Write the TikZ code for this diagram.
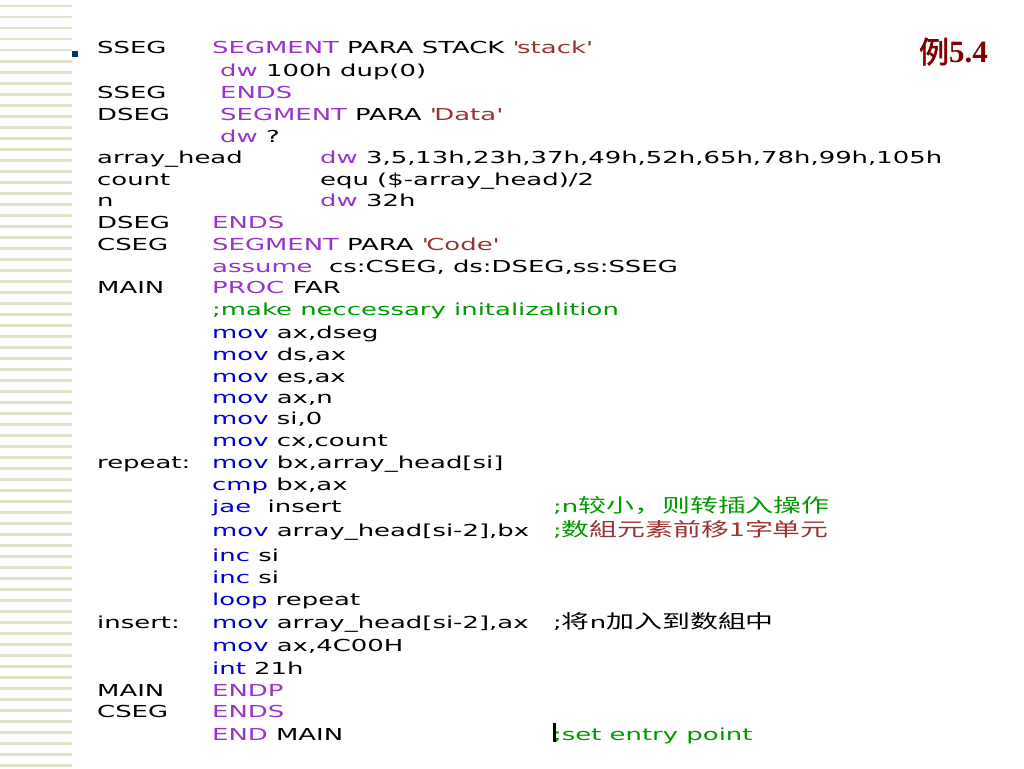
\documentclass[tikz,border=0pt]{standalone}
\usepackage{fontspec}
\setmainfont[FakeStretch=1.57]{DejaVu Sans}
\newfontfamily\cjk[FakeStretch=1.47]{Noto Sans CJK SC}
\newfontfamily\cjkbold[FakeBold=2]{Noto Sans CJK SC}
\newfontfamily\titleserif{Liberation Serif}
\definecolor{dirpurple}{RGB}{153,51,204}
\definecolor{opblue}{RGB}{0,0,204}
\definecolor{strbrown}{RGB}{153,51,51}
\definecolor{cmtgreen}{RGB}{0,153,0}
\definecolor{titlered}{RGB}{128,0,0}
\definecolor{stripegreen}{RGB}{226,226,202}
\definecolor{bulletblue}{RGB}{0,51,102}
\newcommand{\kwd}[1]{\textcolor{dirpurple}{#1}}
\newcommand{\opc}[1]{\textcolor{opblue}{#1}}
\newcommand{\strq}[1]{\textcolor{strbrown}{\textquotesingle#1\textquotesingle}}
\newcommand{\cmnt}[1]{\textcolor{cmtgreen}{#1}}
\newcommand{\zhtext}[1]{{\fontsize{19}{20}\cjk #1}}
\begin{document}
\begin{tikzpicture}[x=1pt,y=-1pt]
        \tikzstyle{code}=[anchor=base west,inner sep=0pt,font=\fontsize{16.5}{20}\selectfont]
        \tikzstyle{stripe}=[fill=stripegreen]
        \useasboundingbox (0,0) rectangle (1024,768);
        \fill[white] (0,0) rectangle (1024,768);
        \foreach \i in {0,...,69}
          \fill[stripe] (0,{5+11*\i}) rectangle (72,{7.5+11*\i});
        \node [fill=bulletblue,inner sep=0pt,minimum size=6pt] (bullet) at (74.5,54.5) {};
        \node [anchor=base east,inner sep=0pt,text=titlered] (title) at (988,63)
          {{\fontsize{30}{32}\cjkbold 例}{\fontsize{31}{32}\titleserif\bfseries 5.4}};
       \begin{scope}
         \node [code] (sseg1) at (97,54) {SSEG};
         \node [code] (stackseg) at (212,54) {\kwd{SEGMENT} PARA STACK \strq{stack}};
         \node [code] (stackdw) at (220,76) {\kwd{dw} 100h dup(0)};
         \node [code] (sseg2) at (97,98) {SSEG};
         \node [code] (stackends) at (220,98) {\kwd{ENDS}};
         \node [code] (dseg1) at (97,120) {DSEG};
         \node [code] (dataseg) at (220,120) {\kwd{SEGMENT} PARA \strq{Data}};
         \node [code] (datadw) at (220,142) {\kwd{dw} ?};
         \node [code] (arrhead) at (97,163) {array\_head};
         \node [code] (arrdw) at (320,163) {\kwd{dw} 3,5,13h,23h,37h,49h,52h,65h,78h,99h,105h};
         \node [code] (count) at (97,185) {count};
         \node [code] (countequ) at (320,185) {equ (\$-array\_head)/2};
         \node [code] (n) at (97,206) {n};
         \node [code] (ndw) at (320,206) {\kwd{dw} 32h};
         \node [code] (dseg2) at (97,228) {DSEG};
         \node [code] (dataends) at (212,228) {\kwd{ENDS}};
        \end{scope}
       \begin{scope}
         \node [code] (cseg1) at (97,250) {CSEG};
         \node [code] (codeseg) at (212,250) {\kwd{SEGMENT} PARA \strq{Code}};
         \node [code] (assume) at (212,272) {\kwd{assume}\ \ cs:CSEG, ds:DSEG,ss:SSEG};
         \node [code] (main1) at (97,293) {MAIN};
         \node [code] (proc) at (212,293) {\kwd{PROC} FAR};
         \node [code] (init) at (212,315) {\cmnt{;make neccessary initalizalition}};
         \node [code] (i1) at (212,338) {\opc{mov} ax,dseg};
         \node [code] (i2) at (212,360) {\opc{mov} ds,ax};
         \node [code] (i3) at (212,382) {\opc{mov} es,ax};
         \node [code] (i4) at (212,403) {\opc{mov} ax,n};
         \node [code] (i5) at (212,424) {\opc{mov} si,0};
         \node [code] (i6) at (212,446) {\opc{mov} cx,count};
         \node [code] (repeat) at (97,468) {repeat:};
         \node [code] (i7) at (212,468) {\opc{mov} bx,array\_head[si]};
         \node [code] (i8) at (212,490) {\opc{cmp} bx,ax};
         \node [code] (i9) at (212,512) {\opc{jae}\ \ insert};
         \node [code] (r9) at (553,512) {\cmnt{;n\zhtext{较小，则转插入操作}}};
         \node [code] (i10) at (212,536) {\opc{mov} array\_head[si-2],bx};
         \node [code] (r10) at (553,536) {\cmnt{;\zhtext{数}}\textcolor{strbrown}{\zhtext{組元素前移1字单元}}};
         \node [code] (i11) at (212,561) {\opc{inc} si};
         \node [code] (i12) at (212,583) {\opc{inc} si};
         \node [code] (i13) at (212,605) {\opc{loop} repeat};
         \node [code] (insert) at (97,628) {insert:};
         \node [code] (i14) at (212,628) {\opc{mov} array\_head[si-2],ax};
         \node [code] (r14) at (553,628) {;\zhtext{将}n\zhtext{加入到数組中}};
         \node [code] (i15) at (212,651) {\opc{mov} ax,4C00H};
         \node [code] (i16) at (212,674) {\opc{int} 21h};
         \node [code] (main2) at (97,696) {MAIN};
         \node [code] (endp) at (212,696) {\kwd{ENDP}};
         \node [code] (cseg2) at (97,717) {CSEG};
         \node [code] (codeends) at (212,717) {\kwd{ENDS}};
         \node [code] (endmain) at (212,740) {\kwd{END} MAIN};
         \node [code] (entry) at (553,740) {\cmnt{;set entry point}};
         \fill (553,723) rectangle (555.5,742);
        \end{scope}
      \end{tikzpicture}
\end{document}
